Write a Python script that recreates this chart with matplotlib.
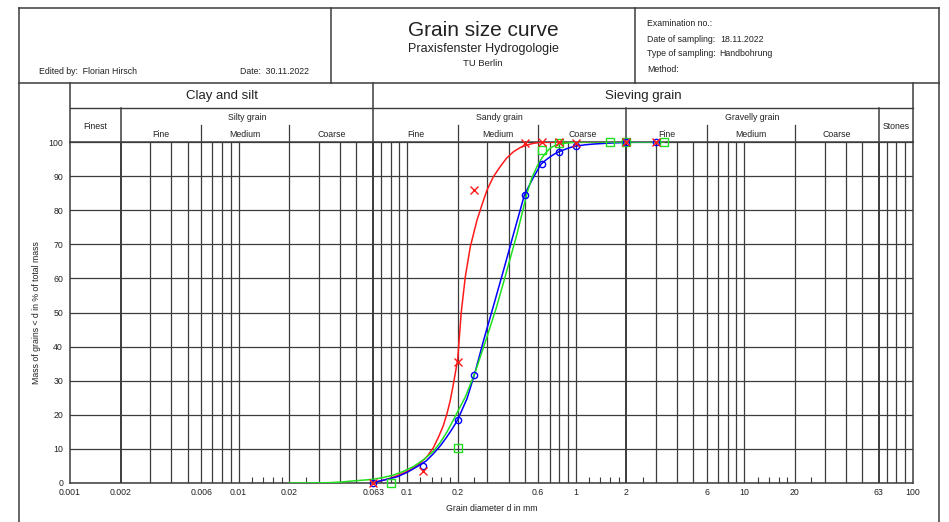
import matplotlib.pyplot as plt
import matplotlib.transforms as mtransforms
from matplotlib.ticker import NullFormatter

plt.rcParams['font.family'] = ['Liberation Sans', 'DejaVu Sans']

# sieve results: grain diameter (mm) and mass passing (%)
red_d = [0.063, 0.125, 0.2, 0.25, 0.5, 0.63, 0.8, 1.0, 2.0, 3.0]
red_p = [0, 3.5, 35.5, 85.8, 99.8, 100, 100, 99.8, 100, 100]
blue_d = [0.063, 0.125, 0.2, 0.25, 0.5, 0.63, 0.8, 1.0, 2.0, 3.0]
blue_p = [0, 5.1, 18.5, 31.7, 84.5, 93.5, 97.2, 98.8, 99.9, 100]
green_d = [0.08, 0.2, 0.63, 0.8, 1.6, 2.0, 3.35]
green_p = [0, 10.4, 97.8, 99.6, 100, 100, 100]

# fitted curves
red_curve_d = [0.063, 0.0795, 0.09, 0.1045, 0.118, 0.131, 0.143, 0.154, 0.164, 0.1726,
               0.18, 0.187, 0.1995, 0.2095, 0.2216, 0.2372, 0.26, 0.28, 0.298, 0.325,
               0.357, 0.39, 0.429, 0.47, 0.515, 0.56, 0.618, 0.7, 1.0, 2.0, 3.0]
red_curve_p = [0, 1.4, 2.4, 3.8, 5.5, 7.7, 10.3, 13.6, 16.8, 20.4,
               24.0, 28.2, 36.1, 50.0, 60.5, 69.3, 77.1, 82.0, 85.9, 89.8,
               92.8, 95.3, 97.2, 98.4, 99.1, 99.6, 99.9, 100, 100, 100, 100]
blue_curve_d = [0.063, 0.0663, 0.075, 0.0871, 0.1, 0.1146, 0.13, 0.1439, 0.158, 0.1726,
                0.186, 0.1995, 0.227, 0.2506, 0.2847, 0.3236, 0.374, 0.429, 0.497, 0.564,
                0.624, 0.665, 0.708, 0.75, 0.801, 0.86, 0.931, 1.0, 1.15, 1.28, 1.6,
                2.0, 3.0]
blue_curve_p = [0, 0.4, 1.0, 1.8, 3.1, 4.8, 6.5, 8.7, 11.0, 13.6,
                16.0, 18.5, 24.8, 31.7, 41.9, 51.5, 62.5, 73.2, 84.5, 89.8,
                93.5, 94.7, 95.7, 96.5, 97.2, 97.8, 98.4, 98.8, 99.2, 99.4, 99.7,
                99.9, 100]
green_curve_d = [0.02, 0.027, 0.035, 0.042, 0.0504, 0.057, 0.063, 0.072, 0.0827, 0.095,
                 0.109, 0.125, 0.1439, 0.158, 0.1726, 0.186, 0.1995, 0.222, 0.254, 0.298,
                 0.339, 0.392, 0.45, 0.515, 0.55, 0.59, 0.625, 0.662, 0.7, 0.741,
                 0.851, 1.0, 2.0, 3.35]
green_curve_p = [0, 0.03, 0.1, 0.35, 0.7, 0.9, 1.1, 1.6, 2.3, 3.4,
                 4.8, 6.8, 9.4, 12.0, 15.0, 18.0, 20.9, 25.3, 32.6, 42.9,
                 51.5, 62.5, 73.2, 85.0, 89.5, 92.8, 95.0, 96.7, 98.0, 98.8,
                 99.6, 100, 100, 100]

# sheet layout
tick_d = [0.001, 0.002, 0.006, 0.01, 0.02, 0.063, 0.1, 0.2, 0.6, 1, 2, 6, 10, 20, 63, 100]
tick_labels = ['0.001', '0.002', '0.006', '0.01', '0.02', '0.063', '0.1', '0.2', '0.6',
               '1', '2', '6', '10', '20', '63', '100']
minor_d = [0.012, 0.014, 0.016, 0.018, 0.025, 0.12, 0.14, 0.16, 0.18, 0.25,
           1.2, 1.4, 1.6, 1.8, 2.5, 12, 14, 16, 18, 25]
grid_d = [0.002, 0.003, 0.004, 0.005, 0.006, 0.007, 0.008, 0.009,
          0.01, 0.02, 0.03, 0.04, 0.05, 0.063, 0.07, 0.08, 0.09,
          0.1, 0.2, 0.3, 0.4, 0.5, 0.6, 0.7, 0.8, 0.9,
          1, 2, 3, 4, 5, 6, 7, 8, 9,
          10, 20, 30, 40, 50, 63, 70, 80, 90]
main_d = [0.002, 0.063, 2, 63]
sub_d = [0.006, 0.02, 0.2, 0.6, 6, 20]
group_labels = [('Clay and silt', 0.001, 0.063), ('Sieving grain', 0.063, 100)]
class_labels = [('Silty grain', 0.002, 0.063), ('Sandy grain', 0.063, 2),
                ('Gravelly grain', 2, 63)]
sub_labels = [('Fine', 0.002, 0.006), ('Medium', 0.006, 0.02), ('Coarse', 0.02, 0.063),
              ('Fine', 0.063, 0.2), ('Medium', 0.2, 0.6), ('Coarse', 0.6, 2),
              ('Fine', 2, 6), ('Medium', 6, 20), ('Coarse', 20, 63)]
side_labels = [('Finest', 0.001, 0.002), ('Stones', 63, 100)]

W, H = 949, 522
line_c = '#3c3c3c'
text_c = '#222222'
small = 6.3

fig = plt.figure(figsize=(W / 100, H / 100), dpi=100)
ax = fig.add_axes([70 / W, 1 - 483 / H, 842.7 / W, 341 / H])
ax.set_xscale('log')
ax.set_xlim(0.001, 100)
ax.set_ylim(0, 100)

for d in grid_d:
    lw = 1.4 if d in main_d else 0.9
    ax.axvline(d, color=line_c, lw=lw, zorder=1)
ax.set_yticks(range(0, 101, 10))
ax.yaxis.grid(True, color=line_c, lw=0.9, zorder=1)
ax.set_axisbelow(True)
for s in ax.spines.values():
    s.set_color(line_c)
    s.set_linewidth(1.1)

ax.set_xticks(tick_d, tick_labels)
ax.set_xticks(minor_d, minor=True)
ax.xaxis.set_minor_formatter(NullFormatter())
ax.tick_params(axis='x', which='major', length=0, pad=3.5, labelsize=small, colors=text_c)
ax.tick_params(axis='x', which='minor', direction='in', length=4, width=0.8, color=line_c)
ax.tick_params(axis='y', length=0, pad=5, labelsize=small, colors=text_c)
ax.set_xlabel('Grain diameter d in mm', fontsize=small, color=text_c, labelpad=5)
ax.set_ylabel('Mass of grains < d in % of total mass', fontsize=small, color=text_c, labelpad=5)

# curves and measured points
ax.plot(red_curve_d, red_curve_p, color='#ff1a1a', lw=1.1, zorder=3)
ax.plot(blue_curve_d, blue_curve_p, color='#0000ff', lw=1.1, zorder=3)
ax.plot(green_curve_d, green_curve_p, color='#1fe01f', lw=1.1, zorder=3)
ax.plot(green_d, green_p, ls='none', marker='s', ms=5.5, mfc='none', mec='#1fe01f', mew=1.0,
        zorder=4, clip_on=False)
ax.plot(blue_d, blue_p, ls='none', marker='o', ms=4.5, mfc='none', mec='#0000ff', mew=1.0,
        zorder=5, clip_on=False)
ax.plot(red_d, red_p, ls='none', marker='x', ms=6, mec='#ff1a1a', mew=1.0,
        zorder=6, clip_on=False)

# classification header above the plot
trans = mtransforms.blended_transform_factory(ax.transData, ax.transAxes)
fy = lambda py: (483 - py) / 341


def vline(d, top, lw=0.9):
    ax.plot([d, d], [fy(top), 1], transform=trans, color=line_c, lw=lw, clip_on=False)


for d in [0.001, 100, 0.063]:
    vline(d, 83, 1.1)
for d in [0.002, 2, 63]:
    vline(d, 108, 1.1)
for d in sub_d:
    vline(d, 125, 0.9)
ax.plot([0.001, 100], [fy(108), fy(108)], transform=trans, color=line_c, lw=1.0, clip_on=False)

gm = lambda a, b: (a * b) ** 0.5
for txt, a, b in group_labels:
    ax.text(gm(a, b), fy(96), txt, transform=trans, ha='center', va='center',
            fontsize=9.5, color=text_c)
for txt, a, b in class_labels:
    ax.text(gm(a, b), fy(117), txt, transform=trans, ha='center', va='center',
            fontsize=small, color=text_c)
for txt, a, b in sub_labels:
    ax.text(gm(a, b), fy(134), txt, transform=trans, ha='center', va='center',
            fontsize=small, color=text_c)
for txt, a, b in side_labels:
    ax.text(gm(a, b), fy(126), txt, transform=trans, ha='center', va='center',
            fontsize=small, color=text_c)

# sheet frame and title block (pixel coordinates)
fr = fig.add_axes([0, 0, 1, 1])
fr.set_xlim(0, W)
fr.set_ylim(H, 0)
fr.axis('off')
fr.plot([19.5, 939.5], [7.5, 7.5], color=line_c, lw=1.1)
fr.plot([19.5, 939.5], [83, 83], color=line_c, lw=1.1)
fr.plot([19.5, 19.5], [7.5, H], color=line_c, lw=1.1)
fr.plot([939.5, 939.5], [7.5, H], color=line_c, lw=1.1)
fr.plot([331, 331], [7.5, 83], color=line_c, lw=1.1)
fr.plot([635, 635], [7.5, 83], color=line_c, lw=1.1)

fr.text(39, 72, 'Edited by:  Florian Hirsch', fontsize=small, va='center', color=text_c)
fr.text(240, 72, 'Date:  30.11.2022', fontsize=small, va='center', color=text_c)
fr.text(483, 30, 'Grain size curve', fontsize=15, ha='center', va='center', color=text_c)
fr.text(483, 49, 'Praxisfenster Hydrogologie', fontsize=9, ha='center', va='center', color=text_c)
fr.text(483, 63, 'TU Berlin', fontsize=6.8, ha='center', va='center', color=text_c)
fr.text(647, 24, 'Examination no.:', fontsize=small, va='center', color=text_c)
fr.text(647, 39, 'Date of sampling:', fontsize=small, va='center', color=text_c)
fr.text(720, 39, '18.11.2022', fontsize=small, va='center', color=text_c)
fr.text(647, 54, 'Type of sampling:', fontsize=small, va='center', color=text_c)
fr.text(719, 54, 'Handbohrung', fontsize=small, va='center', color=text_c)
fr.text(647, 70, 'Method:', fontsize=small, va='center', color=text_c)

fig.savefig('out.png', dpi=100)
